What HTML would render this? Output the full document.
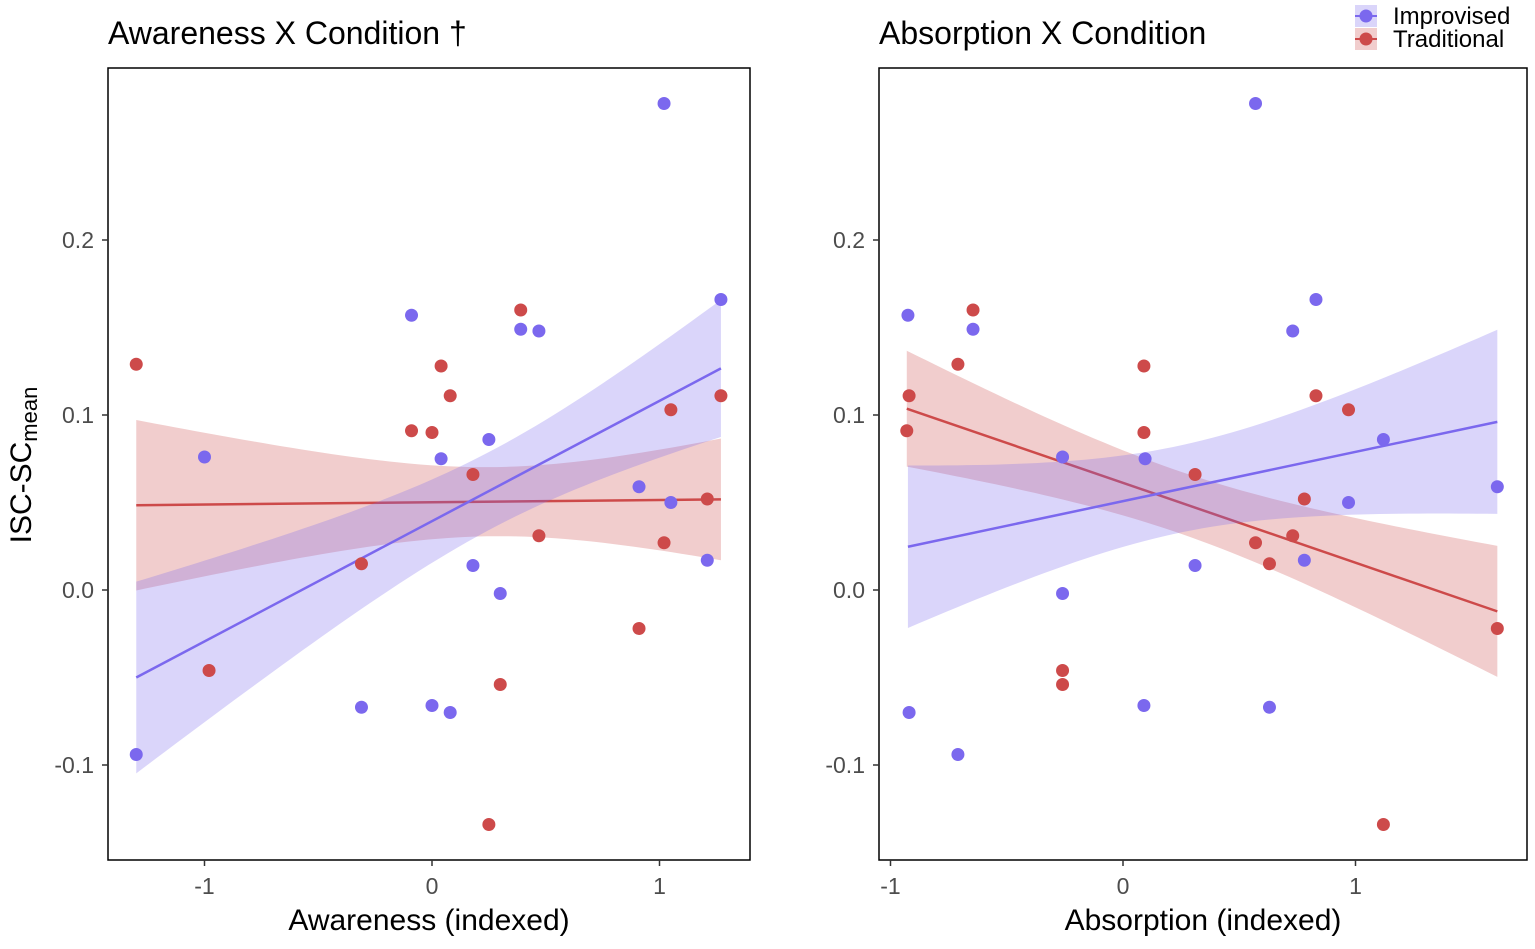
<!DOCTYPE html>
<html><head><meta charset="utf-8"><style>
body{margin:0;background:#fff;}
svg text{font-family:"Liberation Sans",sans-serif;}
</style></head><body>
<svg id="c" width="1535" height="944" xmlns="http://www.w3.org/2000/svg"></svg>
<script>
const awarenessImpX=[-1.30,-1.0,-0.31,-0.09,0.0,0.04,0.08,0.18,0.25,0.30,0.39,0.47,0.91,1.02,1.05,1.21,1.27];
const awarenessImpY=[-0.094,0.076,-0.067,0.157,-0.066,0.075,-0.070,0.014,0.086,-0.002,0.149,0.148,0.059,0.278,0.050,0.017,0.166];
const awarenessTradX=[-1.30,-0.98,-0.31,-0.09,0.0,0.04,0.08,0.18,0.25,0.30,0.39,0.47,0.91,1.02,1.05,1.21,1.27];
const awarenessTradY=[0.129,-0.046,0.015,0.091,0.090,0.128,0.111,0.066,-0.134,-0.054,0.160,0.031,-0.022,0.027,0.103,0.052,0.111];
const absorptionImpX=[-0.925,-0.92,-0.71,-0.645,-0.26,-0.26,0.09,0.095,0.31,0.57,0.63,0.73,0.78,0.83,0.97,1.12,1.61];
const absorptionImpY=[0.157,-0.070,-0.094,0.149,0.076,-0.002,-0.066,0.075,0.014,0.278,-0.067,0.148,0.017,0.166,0.050,0.086,0.059];
const absorptionTradX=[-0.93,-0.92,-0.71,-0.645,-0.26,-0.26,0.09,0.09,0.31,0.57,0.63,0.73,0.78,0.83,0.97,1.12,1.61];
const absorptionTradY=[0.091,0.111,0.129,0.160,-0.046,-0.054,0.128,0.090,0.066,0.027,0.015,0.031,0.052,0.111,0.103,-0.134,-0.022];
const xTicks=[-1,0,1];
const yTicks=[-0.1,0.0,0.1,0.2];
const yTickLabels=["-0.1","0.0","0.1","0.2"];

const NS="http://www.w3.org/2000/svg";
const svg=document.getElementById('c');
function mk(tag,attrs,parent){const e=document.createElementNS(NS,tag);for(const k in attrs)e.setAttribute(k,attrs[k]);(parent||svg).appendChild(e);return e;}
const yScale=v=>590-v*1750;
const BLUE="#7b68ee",RED="#cd4a4a";

function fit(xs,ys){
  const n=xs.length;const mx=xs.reduce((a,b)=>a+b)/n,my=ys.reduce((a,b)=>a+b)/n;
  let sxx=0,sxy=0;xs.forEach((x,i)=>{sxx+=(x-mx)**2;sxy+=(x-mx)*(ys[i]-my);});
  const b=sxy/sxx,a=my-b*mx;let sse=0;xs.forEach((x,i)=>{sse+=(ys[i]-a-b*x)**2;});
  const s=Math.sqrt(sse/(n-2));return {a,b,mx,sxx,n,s};
}
function panel(name,left,right,x0px,xUnit,title,xlabel,sets){
  const g=mk('g',{},svg);
  
  
  const xScale=v=>x0px+v*xUnit;
  const t=mk('text',{x:left,y:44,'font-size':32,fill:'#000'},g);t.textContent=title;
  
  sets.forEach(([xs,ys,col,sname])=>{
    const f=fit(xs,ys);const xmin=Math.min(...xs),xmax=Math.max(...xs);
    const up=[],lo=[];const tv=1.0;
    for(let i=0;i<=60;i++){const x=xmin+(xmax-xmin)*i/60;const yh=f.a+f.b*x;
      const se=f.s*Math.sqrt(1/f.n+(x-f.mx)**2/f.sxx);
      up.push(xScale(x)+','+yScale(yh+tv*se));lo.unshift(xScale(x)+','+yScale(yh-tv*se));}
    const p=mk('polygon',{points:up.concat(lo).join(' '),fill:col,'fill-opacity':0.28},g);
    
    const l=mk('line',{x1:xScale(xmin),y1:yScale(f.a+f.b*xmin),x2:xScale(xmax),y2:yScale(f.a+f.b*xmax),stroke:col,'stroke-width':2.5},g);
    
  });
  sets.forEach(([xs,ys,col,sname])=>{
    xs.forEach((x,i)=>{const c=mk('circle',{cx:xScale(x),cy:yScale(ys[i]),r:6.5,fill:col},g);
      });
  });
  const r=mk('rect',{x:left,y:68,width:right-left,height:792,fill:'none',stroke:'#000','stroke-width':1.5},g);
  
  xTicks.forEach(v=>{const x=xScale(v);mk('line',{x1:x,y1:860,x2:x,y2:866,stroke:'#333','stroke-width':1.5},g);
    const tt=mk('text',{x:x,y:894,'font-size':23,fill:'#4d4d4d','text-anchor':'middle'},g);tt.textContent=v;
    });
  yTicks.forEach((v,i)=>{const y=yScale(v);mk('line',{x1:left-6,y1:y,x2:left,y2:y,stroke:'#333','stroke-width':1.5},g);
    const tt=mk('text',{x:left-14,y:y+8,'font-size':23,fill:'#4d4d4d','text-anchor':'end'},g);tt.textContent=yTickLabels[i];
    });
  const xl=mk('text',{x:(left+right)/2,y:930,'font-size':30,fill:'#000','text-anchor':'middle'},g);xl.textContent=xlabel;
  
}
panel('awareness-panel',108,750,432,227.5,'Awareness X Condition †','Awareness (indexed)',
  [[awarenessTradX,awarenessTradY,RED,'traditional'],[awarenessImpX,awarenessImpY,BLUE,'improvised']]);
panel('absorption-panel',879,1527,1123,232.5,'Absorption X Condition','Absorption (indexed)',
  [[absorptionTradX,absorptionTradY,RED,'traditional'],[absorptionImpX,absorptionImpY,BLUE,'improvised']]);
const yt=mk('text',{x:0,y:0,'font-size':30,fill:'#000','text-anchor':'middle',transform:'translate(31,465) rotate(-90)'});
yt.innerHTML='ISC-SC<tspan font-size="22" dy="6">mean</tspan>';


[[BLUE,'Improvised',16],[RED,'Traditional',39]].forEach(([col,lab,y])=>{
  const g=mk('g',{});
  
  
  mk('rect',{x:1355,y:y-11,width:22,height:22,fill:col,'fill-opacity':0.28},g);
  mk('line',{x1:1355,y1:y,x2:1377,y2:y,stroke:col,'stroke-width':2},g);
  mk('circle',{cx:1366,cy:y,r:6.5,fill:col},g);
  const t=mk('text',{x:1393,y:y+8,'font-size':24,fill:'#000'},g);t.textContent=lab;
});
</script>
</body></html>
